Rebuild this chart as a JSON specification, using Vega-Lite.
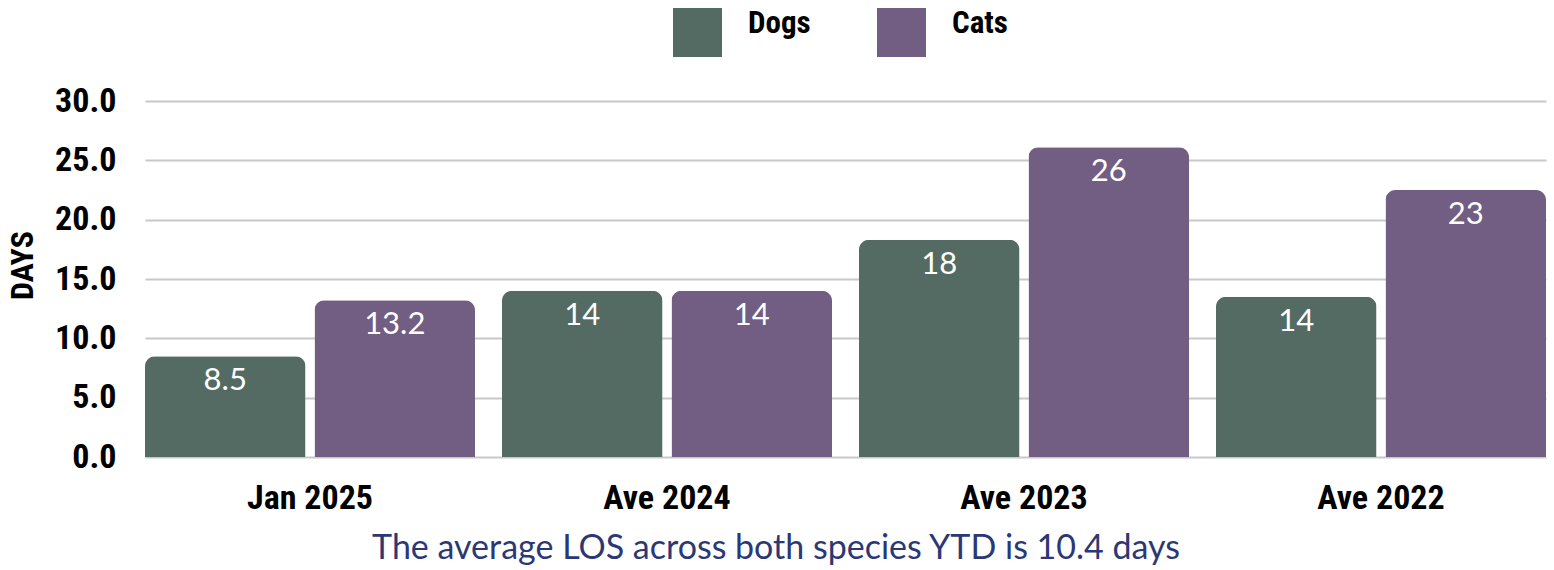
{
  "$schema": "https://vega.github.io/schema/vega-lite/v6.json",
  "width": 1401,
  "height": 356,
  "autosize": {"type": "none"},
  "padding": {"left": 145, "top": 101, "right": 8, "bottom": 113},
  "background": "white",
  "title": {
    "text": "The average LOS across both species YTD is 10.4 days",
    "orient": "bottom",
    "anchor": "middle",
    "frame": "bounds",
    "font": "Lato",
    "fontSize": 34,
    "fontWeight": "normal",
    "color": "#2b3875",
    "offset": 17
  },
  "data": {
    "values": [
      {"period": "Jan 2025", "species": "Dogs", "days": 8.5, "label": "8.5"},
      {"period": "Jan 2025", "species": "Cats", "days": 13.2, "label": "13.2"},
      {"period": "Ave 2024", "species": "Dogs", "days": 14.0, "label": "14"},
      {"period": "Ave 2024", "species": "Cats", "days": 14.0, "label": "14"},
      {"period": "Ave 2023", "species": "Dogs", "days": 18.3, "label": "18"},
      {"period": "Ave 2023", "species": "Cats", "days": 26.1, "label": "26"},
      {"period": "Ave 2022", "species": "Dogs", "days": 13.5, "label": "14"},
      {"period": "Ave 2022", "species": "Cats", "days": 22.5, "label": "23"}
    ]
  },
  "encoding": {
    "x": {
      "field": "period",
      "type": "nominal",
      "sort": ["Jan 2025", "Ave 2024", "Ave 2023", "Ave 2022"],
      "scale": {"paddingInner": 0.0756, "paddingOuter": 0},
      "axis": {
        "title": null,
        "labelAngle": 0,
        "labelFont": "Roboto Condensed",
        "labelFontWeight": "bold",
        "labelFontSize": 34,
        "labelColor": "#000000",
        "labelPadding": 24,
        "ticks": false,
        "domain": false
      }
    },
    "xOffset": {
      "field": "species",
      "type": "nominal",
      "sort": ["Dogs", "Cats"],
      "scale": {"paddingInner": 0.053, "paddingOuter": 0}
    },
    "y": {
      "field": "days",
      "type": "quantitative",
      "scale": {"domain": [0, 30], "nice": false},
      "axis": {
        "values": [0, 5, 10, 15, 20, 25, 30],
        "format": ".1f",
        "title": "DAYS",
        "titleFont": "Roboto Condensed",
        "titleFontWeight": "bold",
        "titleFontSize": 32,
        "titleColor": "#000000",
        "titleAngle": -90,
        "titleAlign": "center",
        "titleBaseline": "alphabetic",
        "titleX": -113,
        "titleY": 164,
        "labelFont": "Roboto Condensed",
        "labelFontWeight": "bold",
        "labelFontSize": 34,
        "labelColor": "#000000",
        "labelPadding": 29,
        "ticks": false,
        "domain": false,
        "grid": true,
        "gridColor": "#c8c8c8",
        "gridWidth": 2
      }
    }
  },
  "layer": [
    {
      "mark": {"type": "bar", "cornerRadiusEnd": 10},
      "encoding": {
        "color": {
          "field": "species",
          "type": "nominal",
          "sort": ["Dogs", "Cats"],
          "scale": {"domain": ["Dogs", "Cats"], "range": ["#536b62", "#725d83"]},
          "legend": {
            "title": null,
            "orient": "none",
            "direction": "horizontal",
            "legendX": 528,
            "legendY": -93,
            "padding": 0,
            "symbolType": "square",
            "symbolSize": 2401,
            "symbolStrokeWidth": 0,
            "symbolOpacity": 1,
            "labelFont": "Roboto Condensed",
            "labelFontWeight": "bold",
            "labelFontSize": 31,
            "labelBaseline": "alphabetic",
            "labelColor": "#000000",
            "labelOffset": 26,
            "columnPadding": 66
          }
        }
      }
    },
    {
      "mark": {
        "type": "text",
        "baseline": "top",
        "dy": 10,
        "color": "#ffffff",
        "font": "Lato",
        "fontSize": 31
      },
      "encoding": {
        "text": {"field": "label", "type": "nominal"}
      }
    }
  ],
  "config": {
    "view": {"stroke": null}
  }
}
